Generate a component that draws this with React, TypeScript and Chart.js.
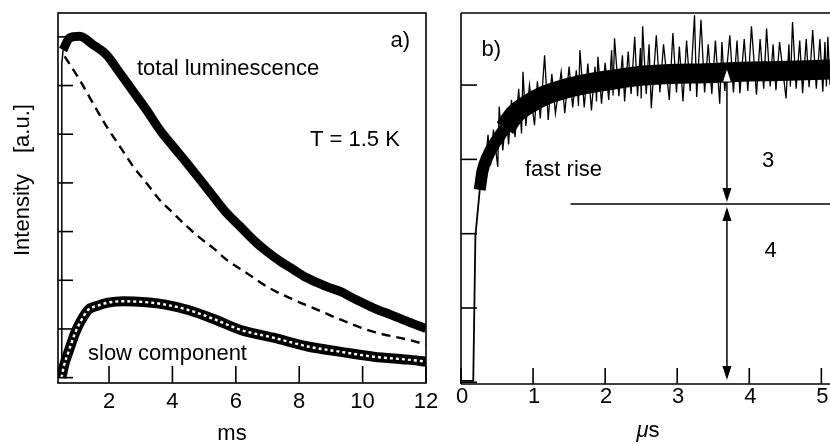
import React, { useEffect, useRef } from 'react';
import { Chart, registerables } from 'chart.js';

Chart.register(...registerables);

const FONT = '22px "Liberation Sans", Arial, Helvetica, sans-serif';
const ITALIC = 'italic 22px "Liberation Sans", Arial, Helvetica, sans-serif';

// ---------- Panel a) : luminescence decay (ms) ----------
const aTickX = [2, 4, 6, 8, 10, 12];
const aTickY = [0, 1, 2, 3, 4, 5, 6, 7];

const totalRiseX = [0.5, 0.51, 0.55];
const totalRiseY = [0, 6.45, 6.73];

const totalX = [0.55, 0.76, 1.07, 1.49, 1.92, 2.34, 2.76, 3.18, 3.6, 4.02, 4.45, 4.87, 5.29, 5.71, 6.13, 6.55, 6.98, 7.4, 7.82, 8.24, 8.87, 9.29, 9.8, 10.35, 10.9, 11.43, 12.0];
const totalY = [6.73, 6.98, 7.01, 6.84, 6.63, 6.26, 5.88, 5.5, 5.09, 4.75, 4.41, 4.07, 3.72, 3.38, 3.11, 2.83, 2.59, 2.39, 2.22, 2.05, 1.87, 1.77, 1.6, 1.43, 1.29, 1.15, 1.01];

const fitX = [0.6, 1.07, 1.49, 1.92, 2.34, 2.76, 3.18, 3.6, 4.02, 4.45, 4.87, 5.29, 5.71, 6.34, 6.98, 7.82, 8.45, 9.31, 10.35, 11.43, 12.0];
const fitY = [6.6, 6.12, 5.64, 5.16, 4.75, 4.34, 4.0, 3.65, 3.38, 3.11, 2.87, 2.66, 2.42, 2.15, 1.87, 1.6, 1.43, 1.19, 0.94, 0.78, 0.68];

const slowX = [0.5, 0.58, 0.71, 0.82, 0.93, 1.1, 1.34, 1.65, 1.97, 2.45, 2.92, 3.35, 3.78, 4.5, 5.36, 6.15, 7.19, 8.27, 9.31, 10.35, 11.43, 12.0];
const slowY = [0.0, 0.25, 0.51, 0.72, 0.92, 1.15, 1.39, 1.48, 1.54, 1.57, 1.56, 1.54, 1.5, 1.39, 1.19, 0.98, 0.82, 0.64, 0.53, 0.43, 0.37, 0.33];

// ---------- Panel b) : fast rise (µs) ----------
const bTickX = [0, 1, 2, 3, 4, 5];
const bTickY = [0, 1, 2, 3, 4];

const riseX = [0, 0.17, 0.2, 0.26, 0.3, 0.36, 0.47, 0.61, 0.74, 0.93, 1.16, 1.44, 1.76, 2.09, 2.45, 2.9, 3.4, 3.9, 4.4, 4.8, 5.12];
const riseY = [0.02, 0.02, 1.97, 2.59, 2.85, 3.02, 3.22, 3.42, 3.6, 3.74, 3.86, 3.95, 4.02, 4.07, 4.12, 4.15, 4.16, 4.18, 4.19, 4.2, 4.21];

const spikeX = [0.29, 0.32, 0.375, 0.41, 0.45, 0.51, 0.53, 0.58, 0.63, 0.66, 0.7, 0.75, 0.8, 0.84, 0.86, 0.9, 0.95, 1.02, 1.06, 1.1, 1.16, 1.21, 1.26, 1.31, 1.39, 1.44, 1.5, 1.55, 1.6, 1.63, 1.65, 1.71, 1.76, 1.81, 1.86, 1.88, 1.9, 1.95, 2.0, 2.05, 2.09, 2.11, 2.13, 2.19, 2.24, 2.27, 2.32, 2.36, 2.41, 2.45, 2.49, 2.5, 2.52, 2.57, 2.61, 2.64, 2.71, 2.76, 2.81, 2.89, 2.94, 2.99, 3.03, 3.08, 3.13, 3.18, 3.24, 3.27, 3.33, 3.38, 3.43, 3.48, 3.53, 3.59, 3.62, 3.66, 3.73, 3.78, 3.83, 3.87, 3.93, 3.98, 4.03, 4.1, 4.15, 4.2, 4.24, 4.29, 4.33, 4.37, 4.42, 4.51, 4.55, 4.57, 4.6, 4.65, 4.7, 4.74, 4.79, 4.83, 4.88, 4.93, 4.98, 5.02, 5.05, 5.07, 5.09, 5.12];
const spikeY = [3.05, 2.76, 3.33, 2.92, 3.4, 2.9, 3.71, 3.12, 3.62, 3.2, 3.8, 3.3, 3.95, 3.35, 4.18, 3.45, 4.0, 3.46, 4.05, 3.55, 4.4, 3.53, 4.15, 3.62, 4.18, 3.62, 4.25, 3.7, 4.2, 3.72, 4.47, 3.7, 4.29, 3.66, 4.25, 3.78, 4.38, 3.75, 4.3, 3.8, 4.47, 3.86, 4.63, 3.85, 4.4, 3.78, 4.45, 3.88, 4.65, 3.85, 4.5, 3.82, 4.79, 3.88, 4.55, 3.69, 4.67, 3.9, 4.55, 3.8, 4.7, 3.9, 4.52, 3.78, 4.6, 3.92, 4.94, 3.84, 4.88, 3.9, 4.55, 3.88, 4.6, 3.75, 4.58, 3.92, 4.67, 3.9, 4.6, 3.89, 4.62, 3.92, 4.79, 3.87, 4.62, 3.95, 4.76, 3.98, 4.55, 3.93, 4.58, 3.82, 4.55, 3.98, 4.85, 3.95, 4.6, 3.89, 4.62, 3.97, 4.74, 3.95, 4.62, 3.91, 4.58, 3.98, 4.65, 4.0];

const arrowX = 3.69;
const levelTop = 4.23;
const levelMid = 2.4;
const levelLow = 0.03;
const levelLineStart = 1.52;

const pts = (xs: number[], ys: number[]) => xs.map((x, i) => ({ x, y: ys[i] }));

const seg = (ctx: CanvasRenderingContext2D, x1: number, y1: number, x2: number, y2: number) => {
  ctx.beginPath();
  ctx.moveTo(x1, y1);
  ctx.lineTo(x2, y2);
  ctx.stroke();
};

const head = (ctx: CanvasRenderingContext2D, x: number, tipY: number, dir: number, fill: string) => {
  // dir = 1 -> pointing down, -1 -> pointing up
  const len = 14;
  const hw = 4.5;
  ctx.beginPath();
  ctx.moveTo(x, tipY);
  ctx.lineTo(x - hw, tipY - dir * len);
  ctx.lineTo(x + hw, tipY - dir * len);
  ctx.closePath();
  ctx.fillStyle = fill;
  ctx.fill();
  if (fill !== '#000') {
    ctx.lineWidth = 1;
    ctx.strokeStyle = '#000';
    ctx.stroke();
  }
};

const panelAPlugin = {
  id: 'panelA',
  afterDraw(chart: any) {
    const { ctx, chartArea: ca } = chart;
    const xs = chart.scales.x;
    const ys = chart.scales.y;
    ctx.save();
    ctx.strokeStyle = '#000';
    ctx.lineWidth = 1.6;
    ctx.strokeRect(ca.left, ca.top, ca.right - ca.left, ca.bottom - ca.top);
    aTickY.forEach((v) => {
      const py = ys.getPixelForValue(v);
      seg(ctx, ca.left, py, ca.left + 15, py);
    });
    aTickX.forEach((v) => {
      const px = xs.getPixelForValue(v);
      seg(ctx, px, ca.bottom, px, ca.bottom - 17);
    });
    ctx.fillStyle = '#000';
    ctx.font = FONT;
    ctx.textBaseline = 'alphabetic';
    ctx.textAlign = 'center';
    aTickX.forEach((v) => ctx.fillText(String(v), xs.getPixelForValue(v), ca.bottom + 25));
    ctx.fillText('ms', 232, 440);
    ctx.textAlign = 'left';
    ctx.fillText('total luminescence', 137, 75);
    ctx.fillText('T = 1.5 K', 310, 146);
    ctx.fillText('slow component', 88, 360);
    ctx.textAlign = 'right';
    ctx.fillText('a)', 410, 47);
    ctx.textAlign = 'left';
    ctx.save();
    ctx.translate(28.5, 256);
    ctx.rotate(-Math.PI / 2);
    ctx.fillText('Intensity', 0, 0);
    ctx.restore();
    ctx.save();
    ctx.translate(28.5, 153);
    ctx.rotate(-Math.PI / 2);
    ctx.fillText('[a.u.]', 0, 0);
    ctx.restore();
    ctx.restore();
  },
};

const panelBPlugin = {
  id: 'panelB',
  afterDraw(chart: any) {
    const { ctx, chartArea: ca } = chart;
    const xs = chart.scales.x;
    const ys = chart.scales.y;
    ctx.save();
    ctx.strokeStyle = '#000';
    ctx.lineWidth = 1.6;
    seg(ctx, ca.left, ca.top, ca.right, ca.top);
    seg(ctx, ca.left, ca.top, ca.left, ca.bottom);
    seg(ctx, ca.left, ca.bottom, ca.right, ca.bottom);
    bTickY.forEach((v) => {
      const py = ys.getPixelForValue(v);
      seg(ctx, ca.left, py, ca.left + 16, py);
    });
    bTickX.forEach((v) => {
      const px = xs.getPixelForValue(v);
      seg(ctx, px, ca.bottom, px, ca.bottom - 16);
    });
    // level line and arrows
    const ax = xs.getPixelForValue(arrowX);
    const yTop = ys.getPixelForValue(levelTop);
    const yMid = ys.getPixelForValue(levelMid);
    const yLow = ys.getPixelForValue(levelLow);
    ctx.lineWidth = 1.5;
    seg(ctx, xs.getPixelForValue(levelLineStart), yMid, ca.right, yMid);
    seg(ctx, ax, yTop + 10, ax, yMid - 12);
    seg(ctx, ax, yMid + 12, ax, yLow - 12);
    head(ctx, ax, yMid - 2, 1, '#000');
    head(ctx, ax, yMid + 3, -1, '#000');
    head(ctx, ax, yLow, 1, '#000');
    head(ctx, ax, yTop, -1, '#fff');
    // texts
    ctx.fillStyle = '#000';
    ctx.font = FONT;
    ctx.textBaseline = 'alphabetic';
    ctx.textAlign = 'center';
    bTickX.forEach((v) => ctx.fillText(String(v), xs.getPixelForValue(v) + 1, ca.bottom + 19));
    ctx.fillText('3', 328, 167);
    ctx.fillText('4', 330.5, 257);
    ctx.textAlign = 'left';
    ctx.fillText('b)', 41.5, 56);
    ctx.fillText('fast rise', 85, 176);
    // axis title "µs" with italic µ
    ctx.font = ITALIC;
    const wMu = ctx.measureText('\u03bc').width;
    ctx.font = FONT;
    const wS = ctx.measureText('s').width;
    const start = 208 - (wMu + wS) / 2;
    ctx.font = ITALIC;
    ctx.fillText('\u03bc', start, 437);
    ctx.font = FONT;
    ctx.fillText('s', start + wMu, 437);
    ctx.restore();
  },
};

const lineDs = (data: any[], width: number, extra: any = {}) => ({
  data,
  showLine: true,
  pointRadius: 0,
  borderColor: '#000',
  backgroundColor: '#000',
  borderWidth: width,
  fill: false,
  ...extra,
});

export default function App() {
  const refA = useRef<HTMLCanvasElement | null>(null);
  const refB = useRef<HTMLCanvasElement | null>(null);

  useEffect(() => {
    const chartA = new Chart(refA.current as HTMLCanvasElement, {
      type: 'scatter',
      data: {
        datasets: [
          lineDs(pts(slowX, slowY), 2.4, { borderColor: '#fff', borderDash: [3, 3], cubicInterpolationMode: 'monotone', order: 0 }),
          lineDs(pts(slowX, slowY), 10, { cubicInterpolationMode: 'monotone', order: 1 }),
          lineDs(pts(totalX, totalY), 9, { cubicInterpolationMode: 'monotone', order: 2 }),
          lineDs(pts(totalRiseX, totalRiseY), 1.5, { order: 3 }),
          lineDs(pts(fitX, fitY), 2.4, { borderDash: [9, 6], cubicInterpolationMode: 'monotone', order: 4 }),
        ],
      } as any,
      options: {
        animation: false,
        responsive: false,
        devicePixelRatio: 1,
        events: [],
        layout: { padding: { left: 58, top: 13, right: 14, bottom: 61 } },
        plugins: { legend: { display: false }, tooltip: { enabled: false }, title: { display: false } },
        scales: {
          x: { type: 'linear', min: 0.39, max: 12, display: false },
          y: { type: 'linear', min: -0.11, max: 7.49, display: false },
        },
      } as any,
      plugins: [panelAPlugin],
    });

    const chartB = new Chart(refB.current as HTMLCanvasElement, {
      type: 'scatter',
      data: {
        datasets: [
          lineDs(pts(spikeX, spikeY), 1.3, { order: 0 }),
          lineDs(pts(riseX.slice(7), riseY.slice(7)), 20, { cubicInterpolationMode: 'monotone', order: 1 }),
          lineDs(pts(riseX.slice(3, 8), riseY.slice(3, 8)), 12, { cubicInterpolationMode: 'monotone', order: 2 }),
          lineDs(pts(riseX, riseY), 1.8, { order: 3 }),
        ],
      } as any,
      options: {
        animation: false,
        responsive: false,
        devicePixelRatio: 1,
        events: [],
        layout: { padding: { left: 21, top: 13, right: 0, bottom: 60 } },
        plugins: { legend: { display: false }, tooltip: { enabled: false }, title: { display: false } },
        scales: {
          x: { type: 'linear', min: 0, max: 5.12, display: false },
          y: { type: 'linear', min: -0.023, max: 4.97, display: false },
        },
      } as any,
      plugins: [panelBPlugin],
    });

    return () => {
      chartA.destroy();
      chartB.destroy();
    };
  }, []);

  return (
    <div style={{ position: 'absolute', left: 0, top: 0, width: 830, height: 444, background: '#fff', overflow: 'hidden' }}>
      <canvas ref={refA} width={440} height={444} style={{ position: 'absolute', left: 0, top: 0, display: 'block' }} />
      <canvas ref={refB} width={390} height={444} style={{ position: 'absolute', left: 440, top: 0, display: 'block' }} />
    </div>
  );
}
